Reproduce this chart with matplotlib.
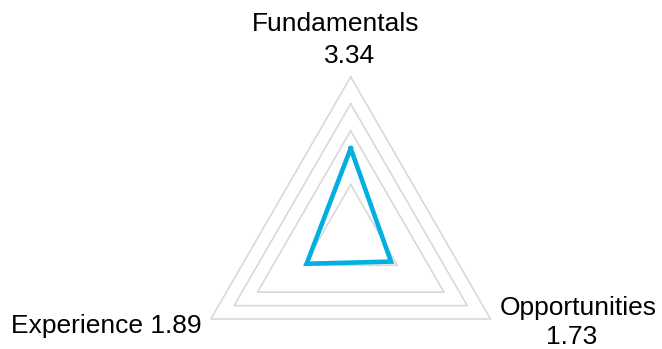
import numpy as np
import matplotlib
matplotlib.use('Agg')
import matplotlib.pyplot as plt

plt.rcParams['font.family'] = ['Liberation Sans', 'DejaVu Sans']

categories = ['Fundamentals', 'Opportunities', 'Experience']
values = [3.34, 1.73, 1.89]
grid_levels = [2, 4, 5, 6]
r_max = 6

# angles: top, lower right, lower left
angles = np.deg2rad([90, -30, 210])

fig = plt.figure(figsize=(6.62, 3.49), dpi=100)
ax = fig.add_axes([0.2858, -0.1456, 0.4879, 0.9255], projection='polar')
ax.set_ylim(0, r_max)
ax.grid(False)
ax.set_xticks([])
ax.set_yticks([])
ax.spines['polar'].set_visible(False)
ax.patch.set_alpha(0)

th = np.append(angles, angles[0])
for lev in grid_levels:
    ax.plot(th, [lev] * 4, color='#d9d9d9', lw=1.2, clip_on=False, zorder=1)

vals = values + values[:1]
ax.plot(th, vals, color='#00b0e0', lw=3.3, clip_on=False, zorder=3,
        solid_joinstyle='miter')

fs = 19
fig.text(336 / 662, 1 - 31 / 349, categories[0], ha='center', va='baseline', fontsize=fs)
fig.text(350 / 662, 1 - 63 / 349, f'{values[0]:.2f}', ha='center', va='baseline', fontsize=fs)
fig.text(578 / 662, 1 - 315 / 349, categories[1], ha='center', va='baseline', fontsize=fs)
fig.text(572 / 662, 1 - 344 / 349, f'{values[1]:.2f}', ha='center', va='baseline', fontsize=fs)
fig.text(11 / 662, 1 - 333 / 349, f'{categories[2]} {values[2]:.2f}', ha='left', va='baseline', fontsize=fs)

fig.savefig('out.png', dpi=100)
